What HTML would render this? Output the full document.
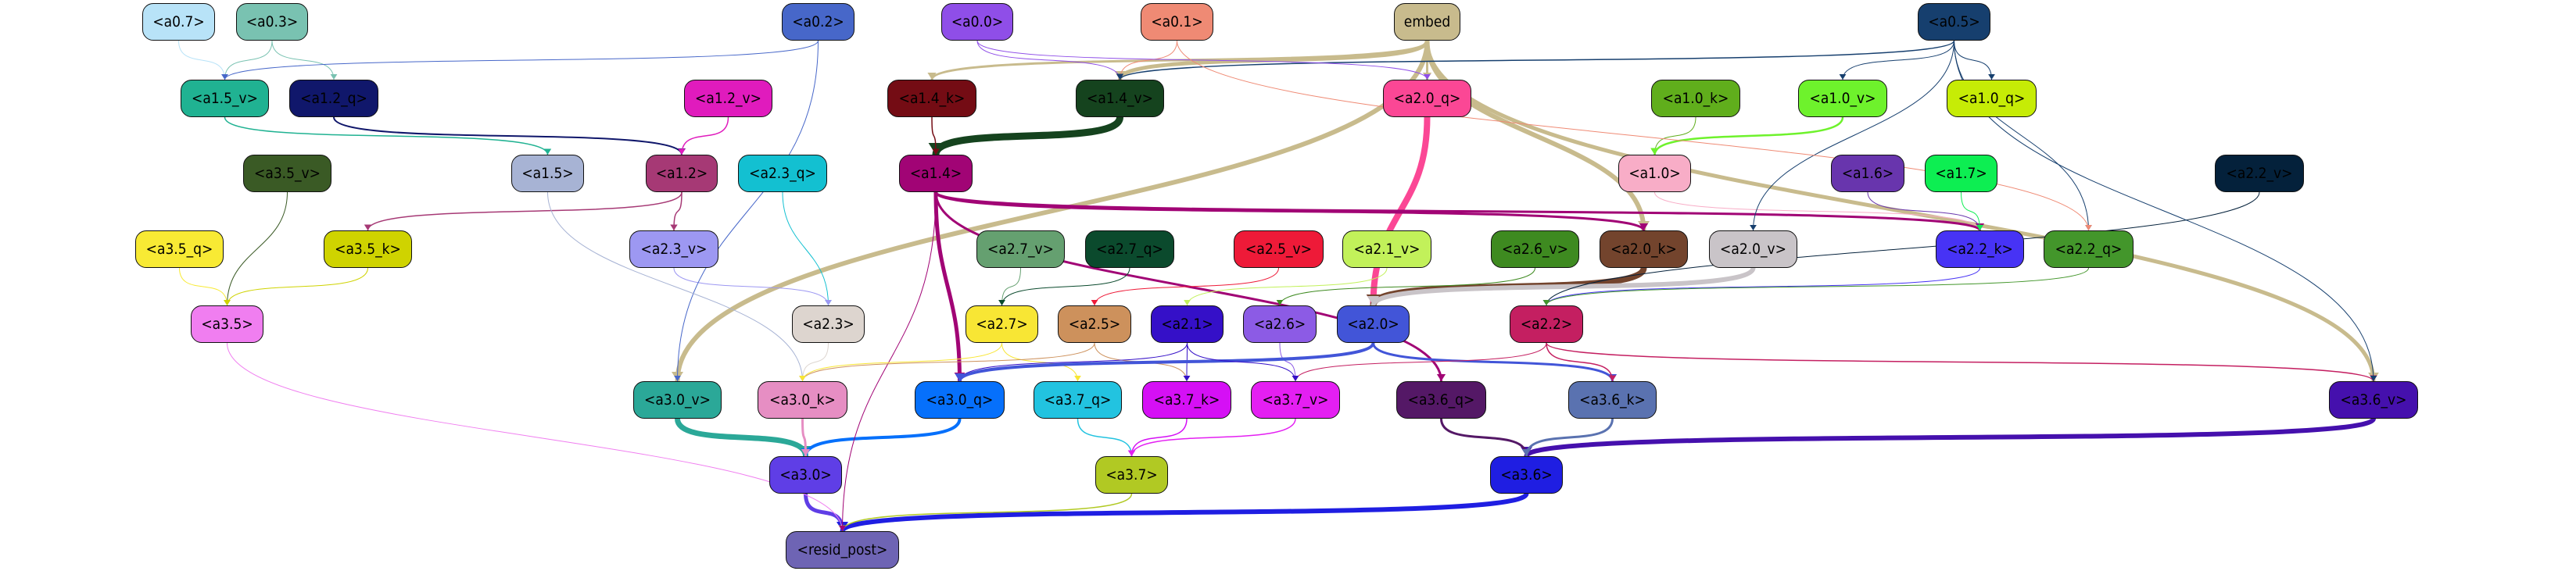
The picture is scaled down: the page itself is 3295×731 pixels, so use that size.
<!DOCTYPE html>
<html><head><meta charset="utf-8">
<style>
body{margin:0;background:#fff;}
#wrap{position:relative;width:3295px;height:731px;overflow:hidden;background:#fff;}
svg{position:absolute;left:0;top:0;}
.n{position:absolute;height:48px;border:1.5px solid #111;border-radius:14px;box-sizing:border-box;display:flex;align-items:center;justify-content:center;font-family:"DejaVu Sans Condensed","Liberation Sans Narrow","Liberation Sans",sans-serif;font-size:19px;color:#000;white-space:nowrap;}
</style></head><body>
<div id="wrap">
<svg id="edges" width="3295" height="731"></svg>
</div>
<script>
const rowY=[28,126,222,319,415,512,608,704];
const nodes=[
["a0.7","<a0.7>",182,275,0,"#b8e3f8"],
["a0.3","<a0.3>",302,394,0,"#79c2b1"],
["a0.2","<a0.2>",1000,1093,0,"#4767c9"],
["a0.0","<a0.0>",1204,1296,0,"#8f4ee8"],
["a0.1","<a0.1>",1459,1552,0,"#ef8a74"],
["embed","embed",1783,1868,0,"#c8bb8d"],
["a0.5","<a0.5>",2453,2546,0,"#163f6e"],
["a1.5_v","<a1.5_v>",231,344,1,"#20b292"],
["a1.2_q","<a1.2_q>",370,484,1,"#10176b"],
["a1.2_v","<a1.2_v>",875,988,1,"#e01bbd"],
["a1.4_k","<a1.4_k>",1135,1249,1,"#740c14"],
["a1.4_v","<a1.4_v>",1376,1489,1,"#15431e"],
["a2.0_q","<a2.0_q>",1769,1882,1,"#fb4795"],
["a1.0_k","<a1.0_k>",2112,2226,1,"#60ae1c"],
["a1.0_v","<a1.0_v>",2300,2414,1,"#6ef22c"],
["a1.0_q","<a1.0_q>",2490,2605,1,"#c6ec06"],
["a3.5_v","<a3.5_v>",311,424,2,"#3a5a25"],
["a1.5","<a1.5>",654,747,2,"#a7b3d4"],
["a1.2","<a1.2>",826,918,2,"#a63975"],
["a2.3_q","<a2.3_q>",944,1058,2,"#13c0d1"],
["a1.4","<a1.4>",1150,1244,2,"#a10475"],
["a1.0","<a1.0>",2070,2163,2,"#f8adc7"],
["a1.6","<a1.6>",2342,2436,2,"#6835ad"],
["a1.7","<a1.7>",2462,2555,2,"#0dee52"],
["a2.2_v","<a2.2_v>",2833,2947,2,"#04213b"],
["a3.5_q","<a3.5_q>",173,286,3,"#f8ea34"],
["a3.5_k","<a3.5_k>",414,527,3,"#cfd300"],
["a2.3_v","<a2.3_v>",805,919,3,"#9d98f2"],
["a2.7_v","<a2.7_v>",1249,1362,3,"#65a070"],
["a2.7_q","<a2.7_q>",1388,1502,3,"#0b4a2d"],
["a2.5_v","<a2.5_v>",1578,1693,3,"#ee1a38"],
["a2.1_v","<a2.1_v>",1717,1831,3,"#c2f15a"],
["a2.6_v","<a2.6_v>",1907,2020,3,"#3e8a20"],
["a2.0_k","<a2.0_k>",2046,2159,3,"#73442d"],
["a2.0_v","<a2.0_v>",2186,2299,3,"#c9c4c8"],
["a2.2_k","<a2.2_k>",2476,2589,3,"#4733f5"],
["a2.2_q","<a2.2_q>",2614,2729,3,"#43962b"],
["a3.5","<a3.5>",244,337,4,"#f07ef0"],
["a2.3","<a2.3>",1013,1106,4,"#ddd5cf"],
["a2.7","<a2.7>",1235,1328,4,"#f8e634"],
["a2.5","<a2.5>",1353,1447,4,"#cd915c"],
["a2.1","<a2.1>",1472,1565,4,"#3510c8"],
["a2.6","<a2.6>",1590,1684,4,"#8c5be5"],
["a2.0","<a2.0>",1710,1803,4,"#4255d8"],
["a2.2","<a2.2>",1931,2025,4,"#c41f61"],
["a3.0_v","<a3.0_v>",810,923,5,"#2ba898"],
["a3.0_k","<a3.0_k>",969,1084,5,"#e68ec3"],
["a3.0_q","<a3.0_q>",1170,1285,5,"#0670fb"],
["a3.7_q","<a3.7_q>",1322,1435,5,"#22c3e0"],
["a3.7_k","<a3.7_k>",1461,1575,5,"#d510f5"],
["a3.7_v","<a3.7_v>",1600,1714,5,"#e41ff2"],
["a3.6_q","<a3.6_q>",1786,1901,5,"#541866"],
["a3.6_k","<a3.6_k>",2006,2119,5,"#5a72b0"],
["a3.6_v","<a3.6_v>",2979,3093,5,"#4510ad"],
["a3.0","<a3.0>",984,1077,6,"#5f3ee6"],
["a3.7","<a3.7>",1401,1494,6,"#b1c923"],
["a3.6","<a3.6>",1906,1999,6,"#1f1ee2"],
["resid_post","<resid_post>",1005,1150,7,"#6e64b4"]
];
const edgeFrom=["embed","embed","embed","embed","embed","embed","a1.4_v","a2.0_q","a2.0_k","a2.0_v","a3.0_v","a3.0_q","a3.0","a3.6","a3.6_v","a3.6_q","a3.6_k","a1.4","a1.4","a1.4","a1.4","a3.0_k","a3.7_q","a3.7_k","a3.7_v","a3.7","a1.4_k","a0.1","a0.0","a0.3","a0.3","a0.7","a1.5_v","a1.2_q","a1.2_v","a1.2","a1.2","a3.5_v","a3.5_q","a3.5_k","a3.5","a2.3_q","a2.3_v","a2.3","a2.7_v","a2.7_q","a2.5_v","a2.1_v","a2.6_v","a1.0_k","a1.0_v","a1.0","a1.6","a1.7","a2.2_v","a2.2_k","a2.2_q","a2.7","a2.5","a2.1","a2.1","a2.6","a2.0","a2.0","a2.2","a2.2","a2.2","a0.5","a0.5","a0.5","a0.5","a0.5","a0.5","a0.2","a0.2","a0.0","a0.1","a1.5","a1.4","a2.1","a2.5","a2.7"];
const edgeTo=["a3.0_v","a2.0_k","a1.4_v","a3.6_v","a1.4_k","a2.0_q","a1.4","a2.0","a2.0","a2.0","a3.0","a3.0","resid_post","resid_post","a3.6","a3.6","a3.6","a3.0_q","a2.0_k","a2.2_k","a3.6_q","a3.0","a3.7","a3.7","a3.7","resid_post","a1.4","a1.4_v","a1.4_v","a1.5_v","a1.2_q","a1.5_v","a1.5","a1.2","a1.2","a2.3_v","a3.5_k","a3.5","a3.5","a3.5","resid_post","a2.3","a2.3","a3.0_k","a2.7","a2.7","a2.5","a2.1","a2.6","a1.0","a1.0","a2.2_k","a2.2_k","a2.2_k","a2.2","a2.2","a2.2","a3.7_q","a3.7_k","a3.7_k","a3.0_q","a3.7_v","a3.6_k","a3.0_q","a3.7_v","a3.6_v","a3.6_k","a1.0_v","a1.0_q","a1.4_v","a2.0_v","a2.2_q","a3.6_v","a1.5_v","a3.0_v","a2.0_q","a2.2_q","a3.0_k","resid_post","a3.7_v","a3.0_k","a3.0_k"];
const edgeW=[6,6,5,5,3,3,9,8,8,6,7,4,5,6,6,3,3,5,3,3,3,3,1.5,1.5,1.5,1.5,1.5,1,1,1,1,1,1.5,2,1.5,1.5,1.5,1,1,1,1,1,1,1,1,1,1,1,1,1,2.5,1,1,1,1,1,1,1,1,1,1,1,3,4,1,1.5,1.5,1,1,1.5,1,1,1,1,1,1,1,1,1,1,1,1];
const edgeC=["#c8bb8d","#c8bb8d","#c8bb8d","#c8bb8d","#c8bb8d","#c8bb8d","#15431e","#fb4795","#73442d","#c9c4c8","#2ba898","#0670fb","#5f3ee6","#1f1ee2","#4510ad","#541866","#5a72b0","#a10475","#a10475","#a10475","#a10475","#e68ec3","#22c3e0","#d510f5","#e41ff2","#b1c923","#740c14","#ef8a74","#8f4ee8","#79c2b1","#79c2b1","#b8e3f8","#20b292","#10176b","#e01bbd","#a63975","#a63975","#3a5a25","#f8ea34","#cfd300","#f07ef0","#13c0d1","#9d98f2","#ddd5cf","#65a070","#0b4a2d","#ee1a38","#c2f15a","#3e8a20","#60ae1c","#6ef22c","#f8adc7","#6835ad","#0dee52","#04213b","#4733f5","#43962b","#f8e634","#cd915c","#3510c8","#3510c8","#8c5be5","#4255d8","#4255d8","#c41f61","#c41f61","#c41f61","#163f6e","#163f6e","#163f6e","#163f6e","#163f6e","#163f6e","#4767c9","#4767c9","#8f4ee8","#ef8a74","#a7b3d4","#a10475","#3510c8","#cd915c","#f8e634"];
const wrap=document.getElementById('wrap');
const svg=document.getElementById('edges');
const NS="http://www.w3.org/2000/svg";
const pos={};
nodes.forEach(n=>{
  const d=document.createElement('div');
  d.className='n';
  
  
  d.style.left=n[2]+'px';d.style.width=(n[3]-n[2])+'px';
  d.style.top=(rowY[n[4]]-24)+'px';d.style.background=n[5];
  d.textContent=n[1];
  wrap.appendChild(d);
  pos[n[0]]={cx:(n[2]+n[3])/2,cy:rowY[n[4]],row:n[4]};
});
edgeFrom.forEach((f,i)=>{
  const a=pos[f],b=pos[edgeTo[i]];if(!a||!b)return;
  const x1=a.cx,y1=a.cy+24,x2=b.cx,y2=b.cy-24;
  const dy=Math.max(40,(y2-y1)*0.5);
  const p=document.createElementNS(NS,'path');
  p.setAttribute('d',`M${x1},${y1} C${x1},${y1+dy} ${x2},${y2-dy} ${x2},${y2}`);
  p.setAttribute('fill','none');p.setAttribute('stroke',edgeC[i]);
  p.setAttribute('stroke-width',edgeW[i]);
  
  
  svg.appendChild(p);
  const ah=document.createElementNS(NS,'polygon');
  const s=6+edgeW[i];
  ah.setAttribute('points',`${x2-s/1.6},${y2-s} ${x2+s/1.6},${y2-s} ${x2},${y2}`);
  ah.setAttribute('fill',edgeC[i]);
  
  
  svg.appendChild(ah);
});
</script>
</body></html>
